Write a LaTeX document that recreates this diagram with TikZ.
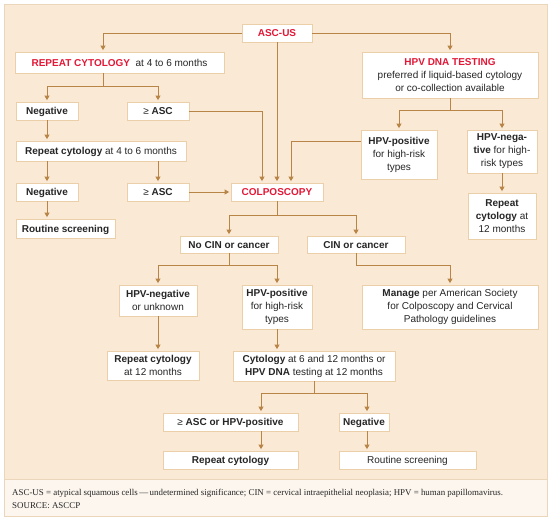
\documentclass[tikz,border=0pt]{standalone}
\usepackage{fontspec}
\setmainfont{Liberation Serif}
\newfontfamily\boxfont{Liberation Sans}
\usetikzlibrary{arrows.meta}
\definecolor{panel}{HTML}{F9E9D5}
\definecolor{capfill}{HTML}{FCF6EE}
\definecolor{frame}{HTML}{EBD6BC}
\definecolor{boxline}{HTML}{EBCFA8}
\definecolor{arrowc}{HTML}{B98546}
\definecolor{ascred}{HTML}{E31837}
\definecolor{txt}{HTML}{262626}
\newcommand\rd[1]{\textcolor{ascred}{\bfseries #1}}
\tikzset{
  box/.style={draw=boxline, fill=white, line width=0.8pt, inner sep=0pt, align=center,
    text=txt, font=\boxfont\fontsize{10}{13}\selectfont},
  one/.style={box, text height=7.2pt, text depth=0pt},
  conn/.style={draw=arrowc, line width=0.8pt},
  arr/.style={conn, -{Triangle[width=5pt,length=4.5pt]}, shorten >=1.5pt}
}
\newcommand\mybox[7][box]{\node[#1,minimum width={(#5-#3)*1pt},minimum height={(#6-#4)*1pt}] (#2) at ({(#3+#5)/2},{(#4+#6)/2}) {#7};}
\begin{document}
\begin{tikzpicture}[x=1pt,y=-1pt]
\useasboundingbox (0,0) rectangle (550,520);
\fill[white] (0,0) rectangle (550,520);
\draw[frame, fill=capfill, line width=0.6pt] (4,4) rectangle (547,516);
\draw[frame, fill=panel, line width=0.6pt] (4,4) rectangle (547,479);
% boxes
\mybox[one]{ascus}{242}{24}{312}{42}{\rd{ASC-US}}
\mybox[one]{rc}{15}{52}{224}{73}{\rd{REPEAT CYTOLOGY}\ \ at 4 to 6 months}
\mybox[one]{neg1}{16}{102}{78}{120}{\bfseries Negative}
\mybox[one]{asc1}{127}{102}{189}{120}{≥ \bfseries ASC}
\mybox[one]{rctwo}{16}{141}{186}{161}{\textbf{Repeat cytology} at 4 to 6 months}
\mybox[one]{neg2}{16}{183}{78}{201}{\bfseries Negative}
\mybox[one]{asc2}{127}{183}{189}{201}{≥ \bfseries ASC}
\mybox[one]{rs1}{16}{219}{115}{238}{\bfseries Routine screening}
\mybox[one]{colpo}{231}{183}{323}{201}{\rd{COLPOSCOPY}}
\mybox{hpvdna}{362}{52}{538}{98}{\rd{HPV DNA TESTING}\\preferred if liquid-based cytology\\or co-collection available}
\mybox{hpvpos}{361}{130}{437}{179}{\textbf{HPV-positive}\\for high-risk\\types}
\mybox{hpvneg}{467}{130}{537}{173}{\textbf{HPV-nega-}\\\textbf{tive} for high-\\risk types}
\mybox{rctwelvea}{468}{193}{536}{239}{\textbf{Repeat}\\\textbf{cytology} at\\12 months}
\mybox[one]{nocin}{180}{236}{278}{253}{\bfseries No CIN or cancer}
\mybox[one]{cin}{307}{236}{405}{253}{\bfseries CIN or cancer}
\mybox{hpvnegu}{119}{285}{197}{316}{\textbf{HPV-negative}\\or unknown}
\mybox{hpvpostwo}{242}{285}{312}{329}{\textbf{HPV-positive}\\for high-risk\\types}
\mybox{manage}{362}{285}{538}{329}{\textbf{Manage} per American Society\\for Colposcopy and Cervical\\Pathology guidelines}
\mybox{rctwelveb}{107}{351}{199}{380}{\textbf{Repeat cytology}\\at 12 months}
\mybox{cyto}{233}{351}{395}{381}{\textbf{Cytology} at 6 and 12 months or\\\textbf{HPV DNA} testing at 12 months}
\mybox[one]{ascor}{163}{413}{298}{431}{≥ \bfseries ASC or HPV-positive}
\mybox[one]{neg3}{339}{413}{389}{431}{\bfseries Negative}
\mybox[one]{rcthree}{163}{451}{298}{469}{\bfseries Repeat cytology}
\mybox[one]{rs2}{339}{451}{476}{469}{Routine screening}
% junctions
\coordinate (j1) at (103,86);
\coordinate (j2) at (450,110);
\coordinate (j3) at (277,215);
\coordinate (j4) at (229,265);
\coordinate (j5) at (356,265);
\coordinate (j6) at (314,393);
\coordinate (k1) at (262,111);
\coordinate (k2) at (291,141);
\coordinate (b1) at (261,393);
\coordinate (b2) at (367,393);
% connectors
\draw[arr] (ascus.west) -| (rc.north -| j1);
\draw[arr] (ascus.east) -| (hpvdna.north);
\draw[arr] (ascus.south) -- (ascus.south |- colpo.north);
\draw[conn] (rc.south -| j1) -- (j1);
\draw[arr] (j1) -| (neg1.north);
\draw[arr] (j1) -| (asc1.north);
\draw[arr] (asc1.east) -| (colpo.north -| k1);
\draw[arr] (neg1.south) -- (neg1.south |- rctwo.north);
\draw[arr] (rctwo.south -| neg2.north) -- (neg2.north);
\draw[arr] (rctwo.south -| asc2.north) -- (asc2.north);
\draw[arr] (asc2.east) -- (colpo.west);
\draw[arr] (neg2.south) -- (neg2.south |- rs1.north);
\draw[conn] (hpvdna.south) -- (j2);
\draw[arr] (j2) -| (hpvpos.north);
\draw[arr] (j2) -| (hpvneg.north);
\draw[arr] (hpvpos.west |- k2) -| (colpo.north -| k2);
\draw[arr] (hpvneg.south) -- (rctwelvea.north);
\draw[conn] (colpo.south) -- (j3);
\draw[arr] (j3) -| (nocin.north);
\draw[arr] (j3) -| (cin.north);
\draw[conn] (nocin.south) -- (j4);
\draw[arr] (j4) -| (hpvnegu.north);
\draw[arr] (j4) -| (hpvpostwo.north);
\draw[arr] (cin.south) -- (j5) -| (manage.north);
\draw[arr] (hpvnegu.south) -- (hpvnegu.south |- rctwelveb.north);
\draw[arr] (hpvpostwo.south) -- (hpvpostwo.south |- cyto.north);
\draw[conn] (cyto.south -| j6) -- (j6);
\draw[conn] (b1) -- (b2);
\draw[arr] (b1) -- (b1 |- ascor.north);
\draw[arr] (b2) -- (b2 |- neg3.north);
\draw[arr] (b1 |- ascor.south) -- (b1 |- rcthree.north);
\draw[arr] (b2 |- neg3.south) -- (b2 |- rs2.north);
% caption
\node[anchor=base west, inner sep=0pt, text=txt, font=\fontsize{8.9}{10}\selectfont] (cap1) at (12,495)
  {ASC-US = atypical squamous cells\,—\,undetermined significance; CIN = cervical intraepithelial neoplasia; HPV = human papillomavirus.};
\node[anchor=base west, inner sep=0pt, text=txt, font=\fontsize{8.9}{10}\selectfont] (cap2) at (12,508)
  {SOURCE: ASCCP};
\end{tikzpicture}
\end{document}
